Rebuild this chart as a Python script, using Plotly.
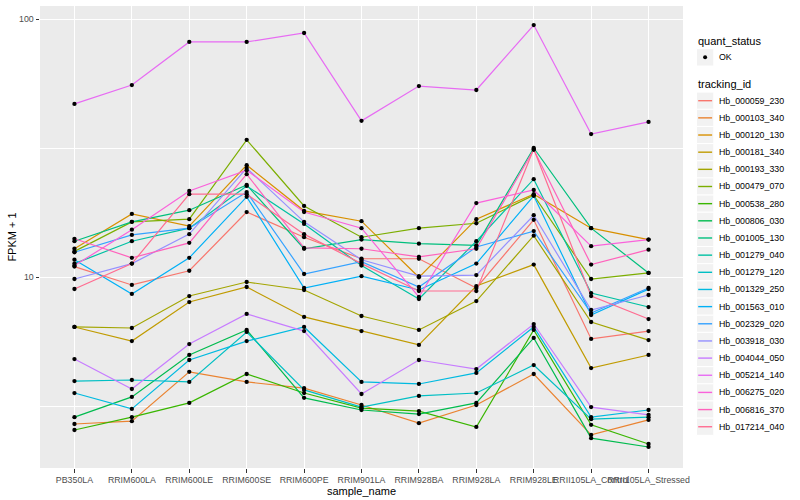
import plotly.graph_objects as go

samples = ["PB350LA", "RRIM600LA", "RRIM600LE", "RRIM600SE", "RRIM600PE", "RRIM901LA",
           "RRIM928BA", "RRIM928LA", "RRIM928LE", "RRII105LA_Control", "RRII105LA_Stressed"]

tracking_ids = ["Hb_000059_230", "Hb_000103_340", "Hb_000120_130", "Hb_000181_340", "Hb_000193_330",
                "Hb_000479_070", "Hb_000538_280", "Hb_000806_030", "Hb_001005_130", "Hb_001279_040",
                "Hb_001279_120", "Hb_001329_250", "Hb_001563_010", "Hb_002329_020", "Hb_003918_030",
                "Hb_004044_050", "Hb_005214_140", "Hb_006275_020", "Hb_006816_370", "Hb_017214_040"]

hb_000059_230 = [11.0, 9.34, 10.6, 17.9, 14.3, 11.8, 11.8, 9.09, 16.7, 5.77, 6.19]
hb_000103_340 = [2.70, 2.77, 4.30, 3.93, 3.72, 3.20, 2.72, 3.20, 4.22, 2.45, 2.80]
hb_000120_130 = [12.9, 17.6, 15.8, 27.2, 18.1, 16.5, 10.0, 16.8, 21.0, 15.5, 14.0]
hb_000181_340 = [6.42, 5.66, 8.02, 9.17, 7.02, 6.19, 5.47, 9.25, 11.2, 4.45, 5.00]
hb_000193_330 = [6.42, 6.36, 8.46, 9.59, 8.93, 7.08, 6.25, 8.09, 14.5, 6.71, 5.71]
hb_000479_070 = [12.6, 16.4, 16.8, 34.1, 18.9, 14.3, 15.5, 16.2, 20.8, 9.85, 10.4]
hb_000538_280 = [2.56, 2.87, 3.26, 4.22, 3.56, 3.11, 3.03, 2.63, 6.25, 2.68, 2.26]
hb_000806_030 = [2.87, 3.44, 5.00, 6.25, 3.41, 3.06, 2.95, 3.26, 5.82, 2.38, 2.20]
hb_001005_130 = [13.8, 16.4, 18.2, 22.8, 12.9, 14.0, 13.5, 13.3, 31.7, 15.5, 10.4]
hb_001279_040 = [11.3, 13.8, 15.5, 22.6, 16.1, 11.1, 8.24, 13.8, 24.0, 8.69, 7.67]
hb_001279_120 = [3.96, 4.00, 3.93, 6.14, 3.66, 3.14, 3.47, 3.56, 4.57, 2.82, 2.87]
hb_001329_250 = [3.56, 3.09, 4.78, 5.66, 6.42, 3.93, 3.86, 4.26, 6.42, 2.87, 3.06]
hb_001563_010 = [11.7, 8.62, 11.9, 20.5, 9.09, 10.1, 8.93, 11.3, 20.7, 7.14, 9.00]
hb_002329_020 = [12.5, 14.6, 15.5, 21.4, 10.3, 11.5, 9.17, 13.1, 15.1, 7.27, 9.09]
hb_003918_030 = [9.85, 11.3, 14.7, 26.5, 16.4, 11.7, 10.1, 10.2, 17.4, 7.47, 8.54]
hb_004044_050 = [4.82, 3.69, 5.51, 7.21, 6.19, 3.53, 4.78, 4.41, 6.59, 3.14, 2.93]
hb_005214_140 = [47.0, 55.6, 81.7, 81.7, 88.5, 40.4, 55.1, 53.2, 95.0, 35.9, 40.0]
hb_006275_020 = [11.1, 15.3, 21.6, 26.0, 17.9, 15.5, 8.39, 19.4, 21.8, 13.2, 14.0]
hb_006816_370 = [14.1, 11.9, 13.6, 25.1, 13.0, 12.9, 12.0, 12.9, 31.2, 11.2, 12.8]
hb_017214_040 = [9.01, 11.3, 21.0, 21.0, 14.7, 11.3, 8.85, 8.85, 31.4, 8.46, 6.89]

series = [hb_000059_230, hb_000103_340, hb_000120_130, hb_000181_340, hb_000193_330,
          hb_000479_070, hb_000538_280, hb_000806_030, hb_001005_130, hb_001279_040,
          hb_001279_120, hb_001329_250, hb_001563_010, hb_002329_020, hb_003918_030,
          hb_004044_050, hb_005214_140, hb_006275_020, hb_006816_370, hb_017214_040]

colors = ["#F8766D", "#EA8331", "#D89000", "#C09B00", "#A3A500", "#7CAE00", "#39B600",
          "#00BB4E", "#00BF7D", "#00C1A3", "#00BFC4", "#00BAE0", "#00B0F6", "#35A2FF",
          "#9590FF", "#C77CFF", "#E76BF3", "#FA62DB", "#FF62BC", "#FF6C91"]

y_ticks = [10, 100]
y_tick_text = ["10", "100"]
y_minor = [10 ** 0.5, 10 ** 1.5]

fig = go.Figure()
for tid, vals, col in zip(tracking_ids, series, colors):
    fig.add_trace(go.Scatter(x=samples, y=vals, mode="lines", name=tid,
                             line=dict(color=col, width=1.2), showlegend=False))
for tid, vals in zip(tracking_ids, series):
    fig.add_trace(go.Scatter(x=samples, y=vals, mode="markers", name=tid,
                             marker=dict(color="black", size=4.3), showlegend=False))

# geometry (pixels)
W, H = 800, 500
L, R, T, B = 40, 117, 6, 32
pw, ph = W - L - R, H - T - B


def px(x):
    return (x - L) / pw


def py(y):
    return (H - B - y) / ph


FONT = "Liberation Sans"
shapes = []
annotations = []

# legend: quant_status
annotations.append(dict(text="quant_status", x=px(696), y=py(40.5), xref="paper", yref="paper",
                        xanchor="left", yanchor="middle", showarrow=False,
                        font=dict(family=FONT, size=11, color="black")))
shapes.append(dict(type="rect", xref="paper", yref="paper", x0=px(696.5), x1=px(713.8),
                   y0=py(48.7), y1=py(66), fillcolor="#F2F2F2", line=dict(color="white", width=1)))
shapes.append(dict(type="circle", xref="paper", yref="paper", x0=px(703.1), x1=px(707.1),
                   y0=py(55.3), y1=py(59.3), fillcolor="black", line=dict(color="black", width=0)))
annotations.append(dict(text="OK", x=px(716.5), y=py(57.3), xref="paper", yref="paper",
                        xanchor="left", yanchor="middle", showarrow=False,
                        font=dict(family=FONT, size=8.8, color="black")))

# legend: tracking_id
annotations.append(dict(text="tracking_id", x=px(696), y=py(84.3), xref="paper", yref="paper",
                        xanchor="left", yanchor="middle", showarrow=False,
                        font=dict(family=FONT, size=11, color="black")))
step = 17.16
for i, (tid, col) in enumerate(zip(tracking_ids, colors)):
    cy = 100.7 + step * i
    shapes.append(dict(type="rect", xref="paper", yref="paper", x0=px(696.5), x1=px(713.8),
                       y0=py(cy - 8.6), y1=py(cy + 8.6), fillcolor="#F2F2F2",
                       line=dict(color="white", width=1)))
    shapes.append(dict(type="line", xref="paper", yref="paper", x0=px(698.2), x1=px(712.1),
                       y0=py(cy), y1=py(cy), line=dict(color=col, width=1.4)))
    annotations.append(dict(text=tid, x=px(716.5), y=py(cy), xref="paper", yref="paper",
                            xanchor="left", yanchor="middle", showarrow=False,
                            font=dict(family=FONT, size=8.8, color="black")))

fig.update_layout(
    width=W, height=H,
    margin=dict(l=L, r=R, t=T, b=B, autoexpand=False),
    paper_bgcolor="white", plot_bgcolor="#EBEBEB",
    font=dict(family=FONT, size=11, color="black"),
    shapes=shapes, annotations=annotations,
    showlegend=False,
    xaxis=dict(type="category", range=[-0.6, 10.6], showgrid=True, gridcolor="white", gridwidth=1.1,
               zeroline=False, showline=False, ticks="outside", ticklen=3.5, tickcolor="#333333",
               tickwidth=1, tickangle=0, tickfont=dict(family=FONT, size=8.8, color="#4D4D4D"),
               title=dict(text="sample_name", standoff=2, font=dict(family=FONT, size=11, color="black")),
               automargin=False),
    yaxis=dict(type="log", range=[0.2609, 2.0515], tickvals=y_ticks, ticktext=y_tick_text,
               showgrid=True, gridcolor="white", gridwidth=1.1, zeroline=False, showline=False,
               ticks="outside", ticklen=3.5, tickcolor="#333333", tickwidth=1,
               tickfont=dict(family=FONT, size=8.8, color="#4D4D4D"),
               minor=dict(tickvals=y_minor, showgrid=True, gridcolor="white", gridwidth=0.55,
                          ticks=""),
               title=dict(text="FPKM + 1", standoff=0, font=dict(family=FONT, size=11, color="black")),
               automargin=False),
)

fig.write_html("out.html", config={"displayModeBar": False},
               post_script="document.body.style.margin='0';document.body.style.padding='0';")
